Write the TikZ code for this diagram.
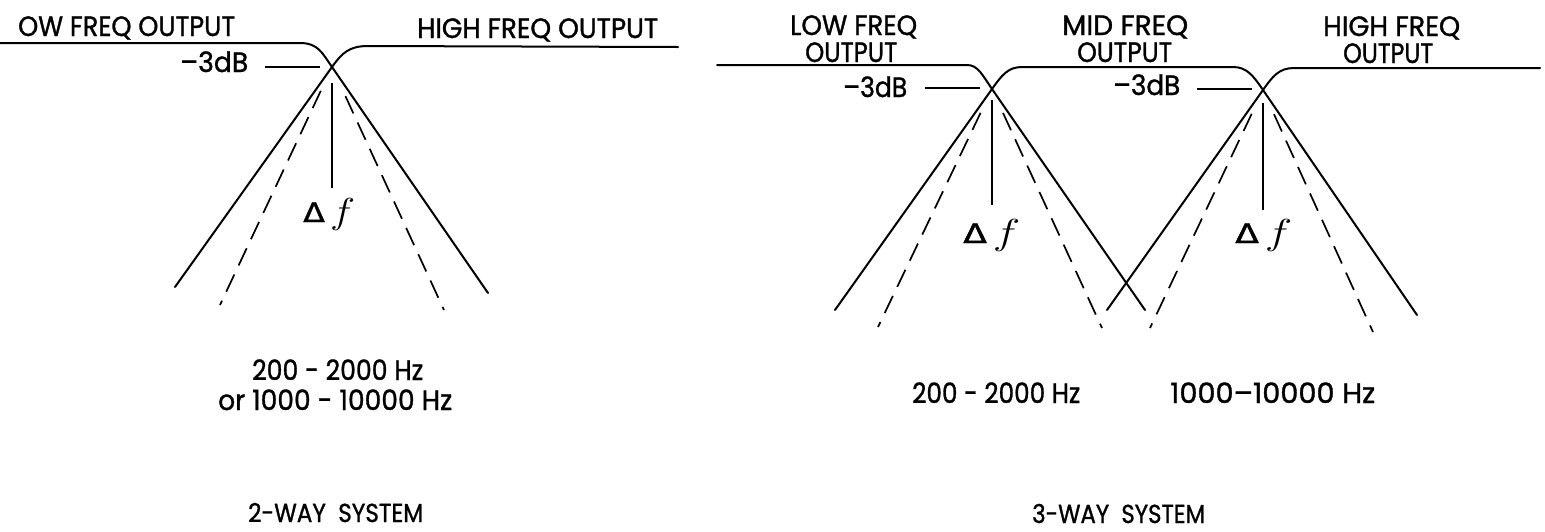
\documentclass[tikz,border=0pt]{standalone}
\usepackage{fontspec}
\setmainfont{Poppins}[FakeBold=1.2]
\newfontfamily\dejavu{DejaVu Sans}[FakeBold=1.2]
\usetikzlibrary{calc}
\newlength\fitlen
\newcommand\fitto[2]{\settowidth\fitlen{#2}\scalebox{\fpeval{#1/\fitlen}}[1]{#2}}
\newcommand\delf{{\dejavu Δ}\,\raisebox{-1pt}{\scalebox{1.45}{$f$}}}
\tikzset{
  resp/.style={line width=2pt, line cap=round, line join=round},
  dsh/.style={line width=1.7pt, dash pattern=on 19pt off 10pt},
  lead/.style={line width=1.3pt},
  lbl/.style={inner sep=0pt, anchor=base west, font=\fontsize{28}{30}\selectfont},
  sml/.style={inner sep=0pt, anchor=base west, font=\fontsize{26}{28}\selectfont},
  dfl/.style={inner sep=0pt, anchor=base west, font=\fontsize{27}{30}\selectfont},
}
\begin{document}
\begin{tikzpicture}[x=1pt,y=-1pt]
\useasboundingbox (0,0) rectangle (1545,531);
% ---------------- 2-way system ----------------
\coordinate (X) at (332,67);
\coordinate (XL) at (175,287);
\coordinate (XR) at (488,293);
\coordinate (XDL) at (220,305);
\coordinate (XDR) at (444,310);
\draw[resp] (0,43) -- (300,43) .. controls (318,43) and (322.3,53) .. (X) -- (XR);
\draw[resp] (XL) -- (X) .. controls (341.8,53.2) and (349,46) .. (368,46) -- (678,47);
\draw[dsh] ($(X)!0.1!(XDL)$) -- (XDL);
\draw[dsh] ($(X)!0.12!(XDR)$) -- (XDR);
\node[lbl] (t1) at (18,36) {\fitto{217pt}{OW FREQ OUTPUT}};
\node[lbl] (t2) at (417,38) {\fitto{241pt}{HIGH FREQ OUTPUT}};
\node[lbl] (m1) at (180,72) {\fitto{68pt}{–3dB}};
\draw[lead] (265,67) -- (320,67);
\node[dfl] (d1) at (303,222) {\fitto{52pt}{\delf}};
\draw[lead] (332,83) -- (332,188);
\node[lbl] (r1) at (252,380) {\fitto{171pt}{200 - 2000 Hz}};
\node[lbl] (r2) at (218,410) {\fitto{234pt}{or 1000 - 10000 Hz}};
\node[sml] (s1) at (248,522) {\fitto{175pt}{2-WAY\ \ SYSTEM}};
% ---------------- 3-way system ----------------
\coordinate (A) at (992,89);
\coordinate (B) at (1263,90);
\coordinate (AL) at (835,310);
\coordinate (AR) at (1145,310);
\coordinate (BL) at (1107,310);
\coordinate (BR) at (1417,315);
\coordinate (ADL) at (878,327);
\coordinate (ADR) at (1102,328);
\coordinate (BDL) at (1150,328);
\coordinate (BDR) at (1373,332);
\draw[resp] (717,65) -- (967,65) .. controls (978,65) and (982.3,75) .. (A) -- (AR);
\draw[resp] (AL) -- (A) .. controls (1001.9,75.1) and (1008,67) .. (1022,67) -- (1233,67)
   .. controls (1247,67) and (1253.4,76) .. (B) -- (BR);
\draw[resp] (BL) -- (B) .. controls (1272.8,76.1) and (1279,68) .. (1294,68) -- (1540,68);
\draw[dsh] ($(A)!0.1!(ADL)$) -- (ADL);
\draw[dsh] ($(A)!0.1!(ADR)$) -- (ADR);
\draw[dsh] ($(B)!0.1!(BDL)$) -- (BDL);
\draw[dsh] ($(B)!0.1!(BDR)$) -- (BDR);
\node[lbl] (l1) at (790,35) {\fitto{127pt}{LOW FREQ}};
\node[lbl] (l2) at (805,62) {\fitto{92pt}{OUTPUT}};
\node[lbl] (c1) at (1062,35) {\fitto{126pt}{MID FREQ}};
\node[lbl] (c2) at (1077,62) {\fitto{95pt}{OUTPUT}};
\node[lbl] (h1) at (1323,36) {\fitto{137pt}{HIGH FREQ}};
\node[lbl] (h2) at (1343,63) {\fitto{90pt}{OUTPUT}};
\node[lbl] (m2) at (843,97) {\fitto{64pt}{–3dB}};
\node[lbl] (m3) at (1113,95) {\fitto{67pt}{–3dB}};
\draw[lead] (925,88) -- (980,88);
\draw[lead] (1197,89) -- (1252,89);
\draw[lead] (992,100) -- (992,205);
\draw[lead] (1263,103) -- (1263,210);
\node[dfl] (d2) at (963,243) {\fitto{57pt}{\delf}};
\node[dfl] (d3) at (1235,243) {\fitto{57pt}{\delf}};
\node[lbl] (r3) at (912,403) {\fitto{168pt}{200 - 2000 Hz}};
\node[lbl] (r4) at (1170,403) {\fitto{205pt}{1000–10000 Hz}};
\node[sml] (s2) at (1032,523) {\fitto{173pt}{3-WAY\ \ SYSTEM}};
\end{tikzpicture}
\end{document}
